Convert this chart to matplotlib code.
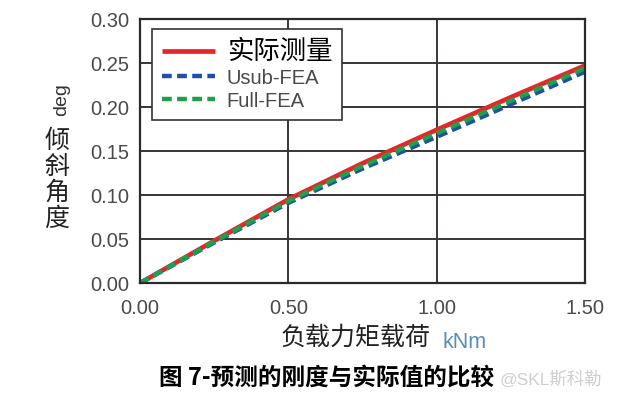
import matplotlib
matplotlib.use("Agg")
import matplotlib.pyplot as plt

plt.rcParams['font.family'] = ['Liberation Sans', 'Noto Sans CJK SC', 'DejaVu Sans']

# 负载力矩 kNm
load = [0.0, 0.25, 0.50, 0.75, 1.00, 1.25, 1.50]
measured = [0.0, 0.048, 0.095, 0.136, 0.174, 0.211, 0.247]
usub_fea = [0.0, 0.046, 0.091, 0.130, 0.166, 0.203, 0.240]
full_fea = [0.0, 0.047, 0.093, 0.133, 0.170, 0.207, 0.244]

x_ticks = [0.0, 0.5, 1.0, 1.5]
y_ticks = [0.0, 0.05, 0.10, 0.15, 0.20, 0.25, 0.30]

fig = plt.figure(figsize=(6.4, 4.06), dpi=100)
ax = fig.add_axes([0.219, 0.3005, 0.695, 0.6505])

ax.plot(load, measured, color='#e8262a', linewidth=3.4, solid_capstyle='butt', label='实际测量')
ax.plot(load, usub_fea, color='#1f4fa8', linewidth=3.2, linestyle=(0, (2.2, 1.2)), label='Usub-FEA')
ax.plot(load, full_fea, color='#1fa04a', linewidth=3.2, linestyle=(0, (2.2, 1.2)), label='Full-FEA')

ax.set_xlim(0, 1.5)
ax.set_ylim(0, 0.30)
ax.set_xticks(x_ticks)
ax.set_yticks(y_ticks)
ax.set_xticklabels(['%.2f' % v for v in x_ticks])
ax.set_yticklabels(['%.2f' % v for v in y_ticks])
ax.tick_params(length=0, labelsize=14.5, colors='#4a4a4a')
ax.tick_params(axis='y', pad=8)
ax.tick_params(axis='x', pad=11)
ax.grid(True, color='#3a3434', linewidth=1.4)
for s in ax.spines.values():
    s.set_color('#2a2a2a')
    s.set_linewidth(1.6)

leg = ax.legend(loc='upper left', bbox_to_anchor=(0.027, 0.962), borderaxespad=0, frameon=True,
                fancybox=False, fontsize=14.5, handlelength=2.6, borderpad=0.5,
                labelspacing=0.22, handletextpad=0.6)
leg.get_frame().set_edgecolor('#333333')
leg.get_frame().set_linewidth(1.2)
leg.get_frame().set_alpha(1)
for i, t in enumerate(leg.get_texts()):
    if i == 0:
        t.set_fontsize(19)
        t.set_color('black')
    else:
        t.set_color('#4a4a4a')

# y label: "deg" rotated, then stacked characters
fig.text(0.096, 0.756, 'deg', rotation=90, fontsize=14, color='#333333', ha='center', va='center')
fig.text(0.089, 0.557, '倾\n斜\n角\n度', fontsize=18, color='#222222', ha='center', va='center',
         linespacing=1.0, family=['Noto Sans CJK SC'])

fig.text(0.555, 0.167, '负载力矩载荷', fontsize=18, color='#222222', ha='center', va='center',
         family=['Noto Sans CJK SC'])
fig.text(0.726, 0.157, 'kNm', fontsize=15.5, color='#5b8fb0', ha='center', va='center')

fig.text(0.51, 0.069, '图 7-预测的刚度与实际值的比较', fontsize=17, fontweight='bold', color='black',
         ha='center', va='center', family=['Noto Sans CJK SC'])
fig.text(0.86, 0.066, '@SKL斯科勒', fontsize=12.5, color='#cfcfcf', ha='center', va='center')

fig.savefig('out.png', dpi=100)
